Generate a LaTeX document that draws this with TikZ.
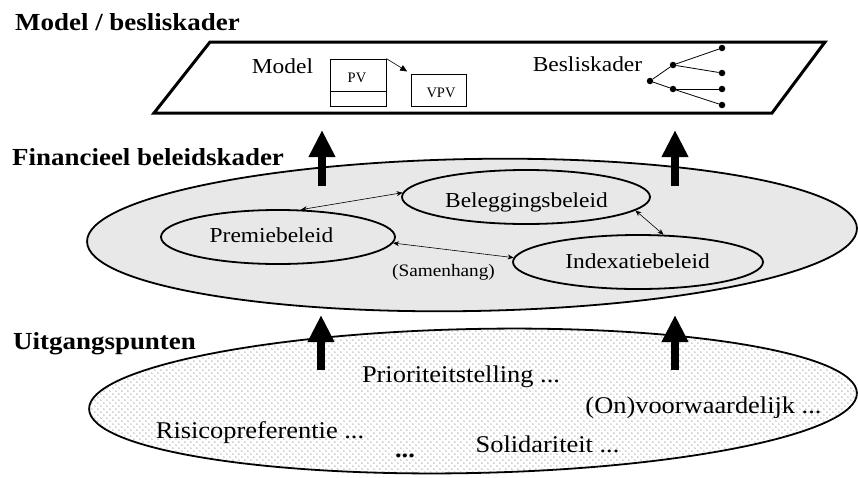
\documentclass[tikz,border=0pt]{standalone}
\usepackage{fontspec}
\setmainfont{Liberation Serif}[FakeStretch=1.1]
\newfontfamily\boxfont{Liberation Serif}
\usetikzlibrary{shapes.geometric,arrows.meta,patterns.meta,calc}
\definecolor{ellfill}{RGB}{232,232,232}
\definecolor{dotcol}{RGB}{85,85,85}
\begin{document}
\begin{tikzpicture}[x=1pt,y=-1pt,
  title/.style={font=\fontsize{24.5}{28}\selectfont\bfseries, anchor=base west, inner sep=0},
  lbl/.style={anchor=base, inner sep=0},
  midtxt/.style={lbl, font=\fontsize{21.3}{25}\selectfont},
  lowtxt/.style={lbl, font=\fontsize{24}{28}\selectfont},
  boxtxt/.style={lbl, font=\boxfont\fontsize{14.5}{17}\selectfont},
  pol/.style={draw, ellipse, line width=1.8pt, fill=ellfill, inner sep=0},
  link/.style={line width=0.6pt, {Stealth[length=6pt,width=5pt]}-{Stealth[length=6pt,width=5pt]}},
  bigarrow/.style={line width=8pt, -{Triangle[length=27pt,width=25pt]}},
  dot/.style={circle, fill, inner sep=0, minimum size=6.5pt},
  smallbox/.style={draw, line width=0.8pt, inner sep=0},
  tree/.style={line width=0.8pt}
]
\useasboundingbox (0,0) rectangle (858,477);

% titles
\node[title] (t1) at (15,30) {Model / besliskader};
\node[title] (t2) at (12,165) {Financieel beleidskader};
\node[title] (t3) at (13,349) {Uitgangspunten};

% top parallelogram
\coordinate (q1) at (210,42);
\coordinate (q2) at (825,42);
\coordinate (q3) at (772,113);
\coordinate (q4) at (154,113);
\draw[line width=3pt, line join=miter] (q1) -- (q2) -- (q3) -- (q4) -- cycle;

\node[midtxt] (model) at (282.5,73) {Model};
\node[smallbox, minimum width=56pt, minimum height=47pt] (pv) at (358,82.5) {};
\draw[line width=0.8pt] ($(pv.south west)+(0,-15)$) -- ($(pv.south east)+(0,-15)$);
\node[boxtxt] (pvt) at (357,82) {PV};
\node[smallbox, minimum width=55pt, minimum height=32pt] (vpv) at (438.5,90) {};
\node[boxtxt] (vpvt) at (441,97) {VPV};
\draw[line width=0.6pt, -{Triangle[length=7pt,width=6pt]}, shorten >=4pt] (pv.north east) -- (vpv.north west);

\node[midtxt] (besl) at (587.5,71) {Besliskader};
\node[dot] (r) at (650,81) {};
\node[dot] (m1) at (673,65) {};
\node[dot] (m2) at (673,89) {};
\node[dot] (l1) at (722,48) {};
\node[dot] (l2) at (722,73) {};
\node[dot] (l3) at (722,89) {};
\node[dot] (l4) at (722,105) {};
\draw[tree] (r) -- (m1); \draw[tree] (r) -- (m2);
\draw[tree] (m1) -- (l1); \draw[tree] (m1) -- (l2);
\draw[tree] (m2) -- (l3); \draw[tree] (m2) -- (l4);

% financial layer
\node[pol, minimum width=770pt, minimum height=152pt, rotate=1] (fin) at (472,235) {};
\node[pol, minimum width=234pt, minimum height=54pt] (prem) at (278,237) {};
\node[pol, minimum width=248pt, minimum height=54pt] (bel) at (526,197) {};
\node[pol, minimum width=250pt, minimum height=54pt] (idx) at (638,262) {};
\node[midtxt] (premt) at (271.5,242) {Premiebeleid};
\node[midtxt] (belt) at (526.5,207) {Beleggingsbeleid};
\node[midtxt] (idxt) at (637.5,268) {Indexatiebeleid};
\draw[link] (prem.50) -- (bel.178);
\draw[link] (prem.-3) -- (idx.178);
\draw[link] (bel.-7) -- (idx.47);
\node[lbl, font=\fontsize{17.5}{21}\selectfont] (samen) at (443.5,276) {(Samenhang)};

% base layer
\node[draw, ellipse, line width=1.8pt, fill=white, inner sep=0,
  minimum width=768pt, minimum height=144pt, rotate=1.2,
  postaction={pattern={Dots[distance=6.4pt,radius=0.65pt]}, pattern color=dotcol},
  postaction={pattern={Dots[distance=6.4pt,radius=0.65pt,xshift=3.2pt,yshift=3.2pt]}, pattern color=dotcol}]
  (uit) at (473,401) {};
\node[lowtxt] (prio) at (461,382) {Prioriteitstelling ...};
\node[lowtxt] (onv) at (703.5,413) {(On)voorwaardelijk ...};
\node[lowtxt] (risi) at (260,438) {Risicopreferentie ...};
\node[lowtxt] (soli) at (547.5,452) {Solidariteit ...};
\node[lowtxt, font=\fontsize{24}{28}\selectfont\bfseries] (etc) at (405,457) {...};

% block arrows
\coordinate (a1s) at (322,186); \coordinate (a1e) at (322,130);
\coordinate (a2s) at (675,186); \coordinate (a2e) at (675,130);
\coordinate (a3s) at (321,370); \coordinate (a3e) at (321,315);
\coordinate (a4s) at (675,370); \coordinate (a4e) at (675,315);
\draw[bigarrow] (a1s) -- (a1e);
\draw[bigarrow] (a2s) -- (a2e);
\draw[bigarrow] (a3s) -- (a3e);
\draw[bigarrow] (a4s) -- (a4e);
\end{tikzpicture}
\end{document}
